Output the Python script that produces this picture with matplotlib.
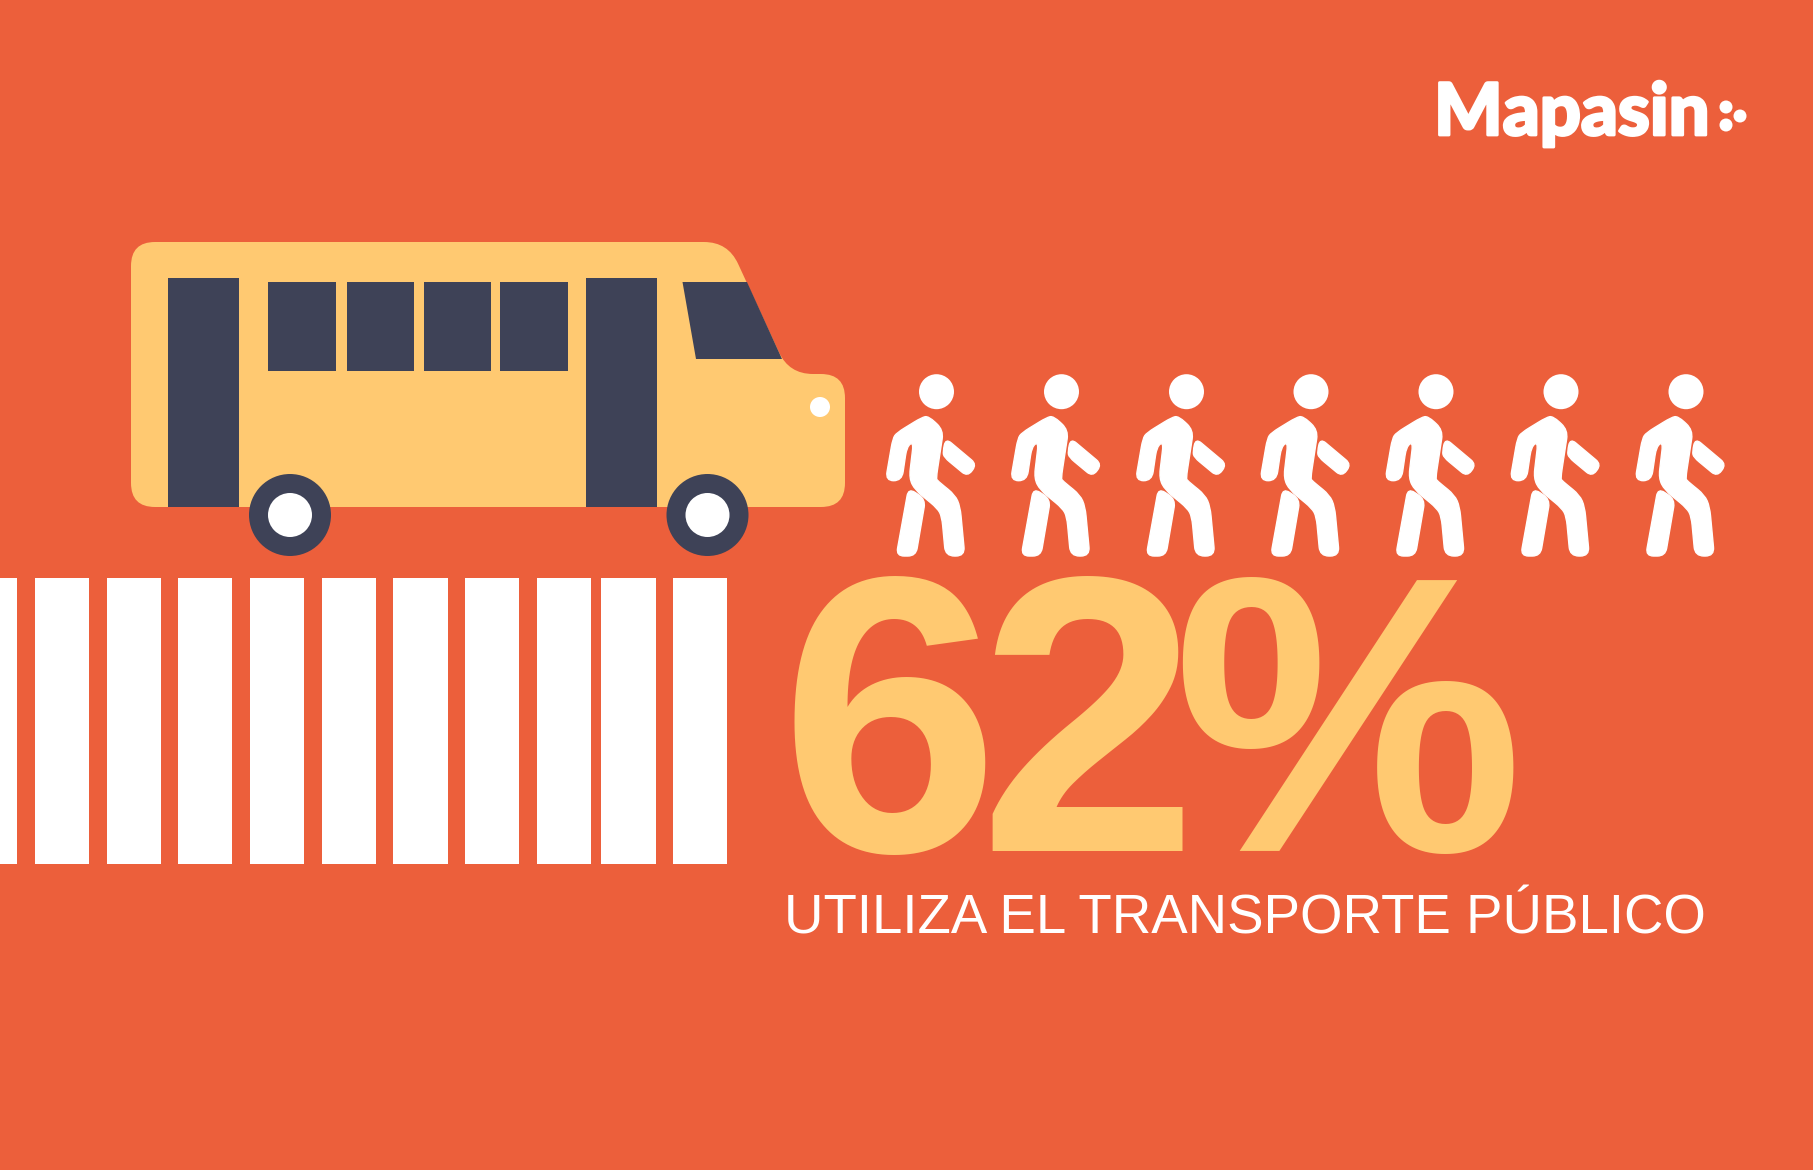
#!/usr/bin/env python3
# -*- coding: utf-8 -*-
import matplotlib
matplotlib.use("Agg")
import matplotlib.pyplot as plt
from matplotlib.patches import Circle, PathPatch, Polygon, Rectangle
from matplotlib.path import Path
import matplotlib.patheffects as pe
import numpy as np

percent_value = [62]
subtitle = ["UTILIZA EL TRANSPORTE PÚBLICO"]
brand = ["Mapasin"]
people_heads_x = [936.5, 1061.5, 1186.5, 1311, 1436, 1561, 1686]
stripes_left = [-20, 35, 107, 178, 250, 321.5, 393, 465, 536.5, 601, 673]
stripes_right = [17, 89, 160.5, 232, 304, 376, 447.5, 519, 591, 656, 727]

orange = "#EC5F3B"
yellow = "#FFC971"
navy = "#3E4257"
white = "#FFFFFF"

W, H = 1813, 1170
fig = plt.figure(figsize=(W / 100, H / 100), dpi=100, facecolor=orange)
ax = fig.add_axes([0, 0, 1, 1])
ax.set_xlim(0, W)
ax.set_ylim(H, 0)
ax.axis("off")


def rounded(pts, r):
    # closed path, each corner replaced by a small quadratic curve
    pts = [np.array(p, dtype=float) for p in pts]
    n = len(pts)
    verts, codes = [], []
    for i in range(n):
        p = pts[i]
        a, b = pts[i - 1], pts[(i + 1) % n]
        ra = min(r, np.linalg.norm(a - p) / 2)
        rb = min(r, np.linalg.norm(b - p) / 2)
        s = p + (a - p) / np.linalg.norm(a - p) * ra
        e = p + (b - p) / np.linalg.norm(b - p) * rb
        verts.append(s)
        codes.append(Path.MOVETO if i == 0 else Path.LINETO)
        verts += [p, e]
        codes += [Path.CURVE3, Path.CURVE3]
    verts.append(verts[0])
    codes.append(Path.CLOSEPOLY)
    return Path(verts, codes)


# crosswalk
ax.bar(stripes_left, [864 - 578] * len(stripes_left),
       width=[r - l for l, r in zip(stripes_left, stripes_right)],
       bottom=578, align="edge", color=white, linewidth=0)

# bus body
body = [(131, 242), (728, 242), (789, 374), (845, 374), (845, 507), (131, 507)]
ax.add_patch(PathPatch(rounded(body, 24), fc=yellow, lw=0))
for x0, x1, y0 in [(168, 239, 278), (586, 657, 278)]:
    ax.add_patch(Rectangle((x0, y0), x1 - x0, 507 - y0, fc=navy, lw=0))
for x0, x1 in [(268, 336), (346.5, 414), (423.5, 491), (500, 568)]:
    ax.add_patch(Rectangle((x0, 282), x1 - x0, 89, fc=navy, lw=0))
ax.add_patch(Polygon([(682.5, 282), (747, 282), (782, 359), (696, 359)], fc=navy, lw=0))
ax.add_patch(Circle((820, 407), 10, fc=white, lw=0))
for cx in [290, 707.5]:
    ax.add_patch(Circle((cx, 515), 41, fc=navy, lw=0))
    ax.add_patch(Circle((cx, 515), 22, fc=white, lw=0))

# walking figure, traced around the head centre
torso = [(205, 168), (250, 210), (228, 355), (232, 362), (285, 405), (300, 440), (314, 588),
         (256, 588), (245, 470), (232, 445), (165, 390), (147, 355), (160, 245), (140, 260),
         (125, 362), (76, 362), (98, 235), (110, 218), (185, 172)]
back_leg = [(145, 384), (196, 418), (167, 588), (108, 588)]
back_arm = [(257, 235), (350, 313), (322, 350), (252, 292), (248, 275)]
for hx in people_heads_x:
    ax.add_patch(Circle((hx, 391.7), 17.5, fc=white, lw=0))
    for shape, r in [(torso, 9), (back_leg, 8), (back_arm, 7)]:
        pts = [(hx + (x - 229) / 3, 391.7 + (y - 95) / 3) for x, y in shape]
        ax.add_patch(PathPatch(rounded(pts, r), fc=white, ec=white, lw=1.0, joinstyle="round"))

# headline number, one glyph at a time for the tight spacing of the original
headline = "%d%%" % percent_value[0]
for ch, x in zip(headline, [780, 978, 1172]):
    ax.text(x, 851, ch, fontsize=284, family="Liberation Sans",
            fontweight="bold", color=yellow, ha="left", va="baseline")
ax.text(784, 934, subtitle[0], fontsize=39.3, family="Liberation Sans",
        color=white, ha="left", va="baseline")

# brand
ax.text(1434, 135, brand[0], fontsize=52, family="Lato", fontweight="black",
        color=white, ha="left", va="baseline",
        path_effects=[pe.withStroke(linewidth=2, foreground=white)])
for cx, cy in [(1726, 107), (1740, 116), (1726, 125)]:
    ax.add_patch(Circle((cx, cy), 6.5, fc=white, lw=0))

fig.savefig("out.png", dpi=100, facecolor=orange)
